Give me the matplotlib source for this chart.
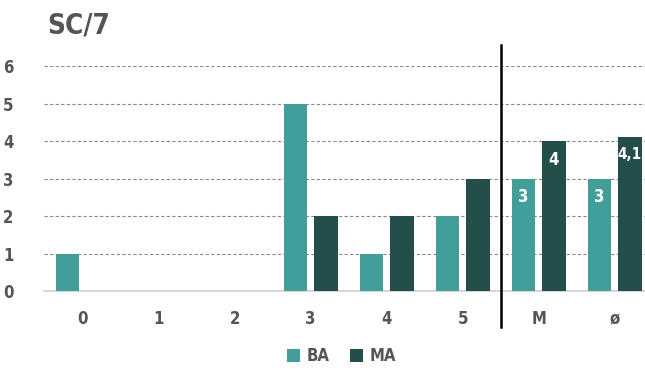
import numpy as np
import matplotlib.pyplot as plt

# DATA
categories = ["0", "1", "2", "3", "4", "5", "M", "ø"]
ba_values = [1, 0, 0, 5, 1, 2, 3, 3]
ma_values = [0, 0, 0, 2, 2, 3, 4, 4.1]
ba_labels = ["", "", "", "", "", "", "3", "3"]
ma_labels = ["", "", "", "", "", "", "4", "4,1"]

ba_color = "#419e98"
ma_color = "#244e4b"
text_color = "#555555"
font = dict(family="DejaVu Sans", fontstretch="condensed", fontweight="bold")

# FIGURE
fig = plt.figure(figsize=(6.45, 3.71), dpi=100)
ax = fig.add_axes([0.068, 0.2156, 0.932, 0.6065])

x_pos = np.arange(len(categories))
bar_w = 0.31
off = 0.2
bars_ba = ax.bar(x_pos - off, ba_values, bar_w, color=ba_color, label="BA", zorder=3)
bars_ma = ax.bar(x_pos + off, ma_values, bar_w, color=ma_color, label="MA", zorder=3)

# labels inside the summary bars
for bars, labels in [(bars_ba, ba_labels), (bars_ma, ma_labels)]:
    for b, s in zip(bars, labels):
        if s:
            ax.annotate(s, (b.get_x() + b.get_width() / 2, b.get_height()),
                        xytext=(0, -7), textcoords="offset points",
                        ha="center", va="top", color="white",
                        fontsize=12 if len(s) == 1 else 11, zorder=4, **font)

ax.set_xlim(-0.51, 7.4)
ax.set_ylim(0, 6)
ax.set_yticks(range(0, 7))
ax.set_xticks(x_pos)
ax.set_xticklabels(categories)
ax.yaxis.grid(True, linestyle=(0, (3, 2)), color="#8a8a8a", linewidth=0.8, zorder=0)
ax.tick_params(length=0)
ax.tick_params(axis="y", pad=22)
ax.tick_params(axis="x", pad=14)
for lbl in ax.get_xticklabels() + ax.get_yticklabels():
    lbl.set_fontsize(12)
    lbl.set_color(text_color)
    lbl.set_fontfamily("DejaVu Sans")
    lbl.set_fontstretch("condensed")
    lbl.set_fontweight("bold")
for side in ["top", "right", "left"]:
    ax.spines[side].set_visible(False)
ax.spines["bottom"].set_color("#d0d0d0")
ax.spines["bottom"].set_linewidth(1.2)

# separator between the single values and the summaries
ax.plot([5.5, 5.5], [-0.96, 6.56], color="black", linewidth=1.8, clip_on=False, zorder=5)

fig.text(0.074, 0.93, "SC/7", color=text_color, fontsize=20, ha="left", va="center", **font)

leg = fig.legend(loc="center", bbox_to_anchor=(0.53, 0.04), ncol=2, frameon=False,
                 handlelength=0.8, handleheight=0.8, handletextpad=0.4, columnspacing=1.2,
                 prop=dict(family="DejaVu Sans", stretch="condensed", weight="bold", size=12))
for t in leg.get_texts():
    t.set_color(text_color)

plt.savefig("out.png", dpi=100)
